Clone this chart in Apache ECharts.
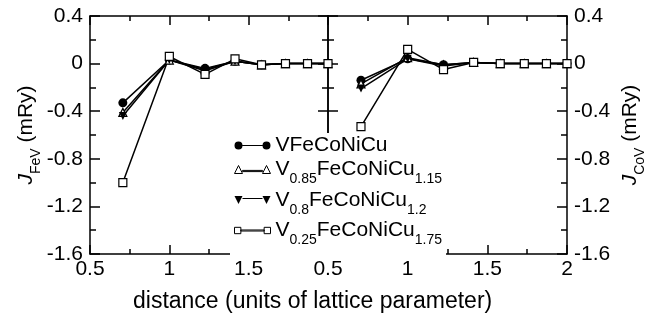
<!DOCTYPE html>
<html>
<head>
<meta charset="utf-8">
<script src="https://cdn.jsdelivr.net/npm/echarts@6/dist/echarts.min.js"></script>
<style>
html, body { margin: 0; padding: 0; background: #fff; }
#chart { width: 646px; height: 320px; }
</style>
</head>
<body>
<div id="chart"></div>
<script>
// neighbour distances (units of lattice parameter)
var distances = [0.707, 1.0, 1.225, 1.414, 1.581, 1.732, 1.871, 2.0];
var xTicks = [0.5, 1, 1.5, 2];
var yTicks = [-1.6, -1.2, -0.8, -0.4, 0, 0.4];

var seriesNames = ['VFeCoNiCu', 'V0.85FeCoNiCu1.15', 'V0.8FeCoNiCu1.2', 'V0.25FeCoNiCu1.75'];
var seriesLabels = [
    '{m|VFeCoNiCu}',
    '{m|V}{s|0.85}{m|FeCoNiCu}{s|1.15}',
    '{m|V}{s|0.8}{m|FeCoNiCu}{s|1.2}',
    '{m|V}{s|0.25}{m|FeCoNiCu}{s|1.75}'
];

// J_FeV (mRy), left panel
var jFeV_1 = [-0.33, 0.03, -0.04, 0.02, -0.01, 0, 0, 0];
var jFeV_085 = [-0.41, 0.03, -0.05, 0.02, -0.01, 0, 0, 0];
var jFeV_08 = [-0.44, 0.03, -0.06, 0.02, -0.01, 0, 0, 0];
var jFeV_025 = [-1.0, 0.06, -0.09, 0.04, -0.01, 0, 0, 0];

// J_CoV (mRy), right panel
var jCoV_1 = [-0.14, 0.04, -0.01, 0.01, 0, 0, 0, 0];
var jCoV_085 = [-0.17, 0.05, -0.01, 0.01, 0, 0, 0, 0];
var jCoV_08 = [-0.21, 0.04, -0.02, 0.01, 0, 0, 0, 0];
var jCoV_025 = [-0.53, 0.12, -0.05, 0.01, 0, 0, 0, 0];

var FONT = '"Liberation Sans", Arial, sans-serif';

var symbols = ['circle', 'triangle', 'triangle', 'rect'];
var symbolRotate = [0, 0, 180, 0];
var hollow = [false, true, false, true];
// line sample with a marker at both ends
var legendIcons = [
    'path://M0,4A4,4,0,1,1,8,4A4,4,0,1,1,0,4ZM8,3.4H28V4.6H8ZM28,4A4,4,0,1,1,36,4A4,4,0,1,1,28,4Z',
    'path://M0,8L4,0L8,8ZM8,4.9H28V6.1H8ZM28,8L32,0L36,8Z',
    'path://M0,0H8L4,8ZM8,1.9H28V3.1H8ZM28,0H36L32,8Z',
    'path://M1,1H7V7H1ZM7,3.5H29V4.5H7ZM29,1H35V7H29Z'
];

function pairs(ys){
    var out = [];
    for (var i = 0; i < ys.length; i++) out.push([distances[i], ys[i]]);
    return out;
}

function xAxisFor(grid, pos, labelFn){
    return {
        type: 'value', gridIndex: grid, position: pos,
        min: xTicks[0], max: xTicks[xTicks.length - 1], interval: 0.5,
        axisLine: {show: true, onZero: false, lineStyle: {color: '#000', width: 1.5}},
        axisTick: {show: true, inside: true, length: 9, lineStyle: {color: '#000', width: 1.5}},
        minorTick: {show: true, splitNumber: 2, length: 5, lineStyle: {color: '#000', width: 1.5}},
        splitLine: {show: false},
        axisLabel: labelFn ? {show: true, formatter: labelFn, color: '#000', fontSize: 21, margin: 5, fontFamily: FONT} : {show: false}
    };
}

function yAxisFor(grid, pos, showLabels, name, nameGap){
    var ax = {
        type: 'value', gridIndex: grid, position: pos,
        min: yTicks[0], max: yTicks[yTicks.length - 1], interval: 0.4,
        axisLine: {show: true, onZero: false, lineStyle: {color: '#000', width: 1.5}},
        axisTick: {show: true, inside: true, length: 10, lineStyle: {color: '#000', width: 1.5}},
        minorTick: {show: true, splitNumber: 2, length: 6, lineStyle: {color: '#000', width: 1.5}},
        splitLine: {show: false},
        axisLabel: showLabels ? {show: true, color: '#000', fontSize: 21, margin: 7, fontFamily: FONT} : {show: false}
    };
    if (name) {
        ax.name = name;
        ax.nameLocation = 'middle';
        ax.nameRotate = 90;
        ax.nameGap = nameGap;
        ax.nameTextStyle = {
            color: '#000', fontFamily: FONT,
            rich: {
                j: {fontSize: 21, fontStyle: 'italic', lineHeight: 34, fontFamily: FONT, color: '#000'},
                s: {fontSize: 14, verticalAlign: 'bottom', fontFamily: FONT, color: '#000'},
                m: {fontSize: 21, lineHeight: 34, fontFamily: FONT, color: '#000'}
            }
        };
    }
    return ax;
}

var series = [];
var leftData = [jFeV_1, jFeV_085, jFeV_08, jFeV_025];
var rightData = [jCoV_1, jCoV_085, jCoV_08, jCoV_025];
function addSeries(dataSets, xi, yi){
    for (var i = 0; i < dataSets.length; i++) {
        series.push({
            name: seriesNames[i],
            type: 'line',
            xAxisIndex: xi, yAxisIndex: yi,
            data: pairs(dataSets[i]),
            symbol: symbols[i],
            symbolRotate: symbolRotate[i],
            symbolSize: i === 0 ? 9 : 8,
            clip: false,
            lineStyle: {color: '#000', width: 1.5},
            itemStyle: hollow[i] ? {color: '#fff', borderColor: '#000', borderWidth: 1.2} : {color: '#000'},
            emphasis: {disabled: true}
        });
    }
}
addSeries(leftData, 0, 0);
addSeries(rightData, 2, 3);

var legendData = [];
for (var k = 0; k < seriesNames.length; k++) {
    legendData.push({
        name: seriesNames[k],
        icon: legendIcons[k],
        itemStyle: hollow[k] ? {color: '#fff', borderColor: '#000', borderWidth: 1} : {color: '#000', borderWidth: 0}
    });
}

var myChart = echarts.init(document.getElementById('chart'));
var option = {
    animation: false,
    backgroundColor: '#fff',
    title: {
        text: 'distance (units of lattice parameter)',
        left: 128, top: 285,
        textStyle: {fontSize: 23, fontWeight: 'normal', color: '#000', fontFamily: FONT}
    },
    grid: [
        {left: 90, top: 16, width: 238, height: 238, outerBoundsMode: 'none'},
        {left: 328, top: 16, width: 239, height: 238, outerBoundsMode: 'none'}
    ],
    legend: {
        data: legendData,
        orient: 'vertical',
        left: 230, top: 133,
        padding: [2, 4, 8, 4],
        itemWidth: 36, itemHeight: 8,
        itemGap: 3,
        backgroundColor: '#fff',
        selectedMode: false,
        formatter: function(name){ return seriesLabels[seriesNames.indexOf(name)]; },
        textStyle: {
            color: '#000', fontFamily: FONT,
            rich: {
                m: {fontSize: 21, lineHeight: 34, fontFamily: FONT, color: '#000'},
                s: {fontSize: 14, verticalAlign: 'bottom', fontFamily: FONT, color: '#000'}
            }
        }
    },
    xAxis: [
        xAxisFor(0, 'bottom', function(v){ return v === 2 ? '' : String(v); }),
        xAxisFor(0, 'top', null),
        xAxisFor(1, 'bottom', function(v){ return String(v); }),
        xAxisFor(1, 'top', null)
    ],
    yAxis: [
        yAxisFor(0, 'left', true, '{j|J}{s|FeV}{m| (mRy)}', 46),
        yAxisFor(0, 'right', false),
        yAxisFor(1, 'left', false),
        yAxisFor(1, 'right', true, '{j|J}{s|CoV}{m| (mRy)}', 46)
    ],
    series: series
};
myChart.setOption(option);
</script>
</body>
</html>
